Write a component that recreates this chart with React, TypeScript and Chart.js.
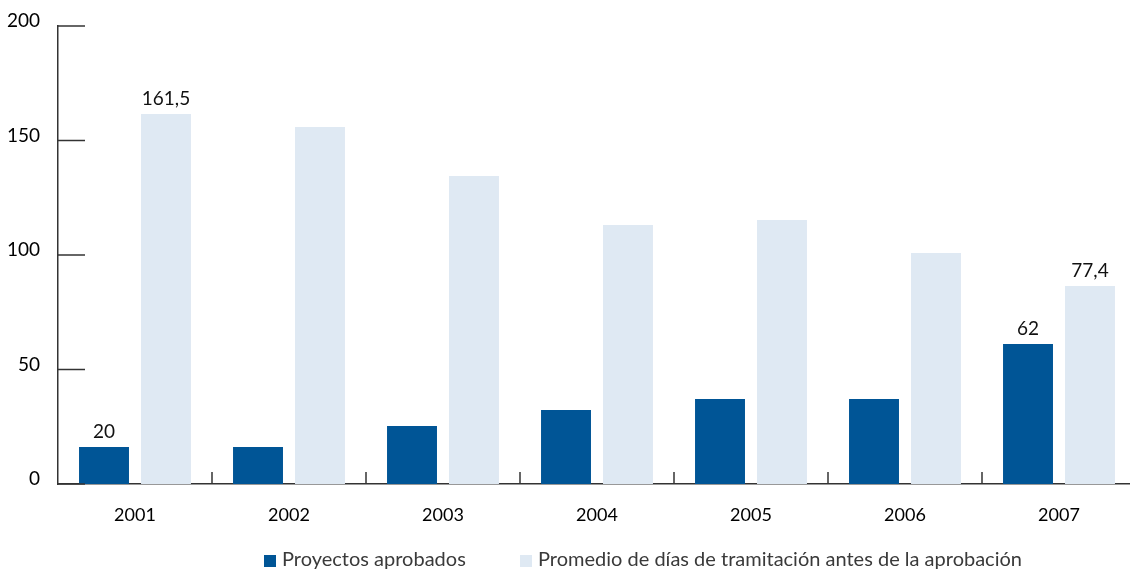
import React, { useEffect, useRef } from "react";
import { Chart, registerables } from "chart.js";

Chart.register(...registerables);

const categories = ["2001", "2002", "2003", "2004", "2005", "2006", "2007"];
const proyectosAprobados = [16.2, 16.2, 25.3, 32.3, 37.1, 37.1, 61.1];
const promedioDias = [161.6, 155.9, 134.5, 113.1, 115.3, 100.9, 86.5];
const proyectosLabels = ["20", "", "", "", "", "", "62"];
const promedioLabels = ["161,5", "", "", "", "", "", "77,4"];
const seriesNames = [
  "Proyectos aprobados",
  "Promedio de días de tramitación antes de la aprobación",
];
const yMin = 0;
const yMax = 200;
const yStep = 50;

const DARK = "#005596";
const LIGHT = "#dfe9f3";
const AXIS = "#333333";
const FONT = "Lato, 'DejaVu Sans', sans-serif";

const axisMarks = {
  id: "axisMarks",
  afterDatasetsDraw(chart: any) {
    const { ctx, chartArea, scales } = chart;
    const x = scales.x;
    const y = scales.y;
    ctx.save();
    ctx.strokeStyle = AXIS;
    ctx.lineWidth = 1.5;
    y.ticks.forEach((t: any) => {
      const py = y.getPixelForValue(t.value);
      ctx.beginPath();
      ctx.moveTo(chartArea.left, py);
      ctx.lineTo(chartArea.left + 27, py);
      ctx.stroke();
    });
    for (let i = 1; i < categories.length; i++) {
      const px = (x.getPixelForValue(i - 1) + x.getPixelForValue(i)) / 2;
      ctx.beginPath();
      ctx.moveTo(px, chartArea.bottom);
      ctx.lineTo(px, chartArea.bottom - 12);
      ctx.stroke();
    }
    ctx.restore();
  },
};

const valueLabels = {
  id: "valueLabels",
  afterDatasetsDraw(chart: any) {
    const { ctx } = chart;
    const sets = [proyectosLabels, promedioLabels];
    ctx.save();
    ctx.fillStyle = "#111111";
    ctx.font = `19px ${FONT}`;
    ctx.textAlign = "center";
    ctx.textBaseline = "alphabetic";
    sets.forEach((labels, di) => {
      const meta = chart.getDatasetMeta(di);
      labels.forEach((txt, i) => {
        if (!txt) return;
        const el = meta.data[i];
        ctx.fillText(txt, el.x, el.y - 9);
      });
    });
    ctx.restore();
  },
};

const customLegend = {
  id: "customLegend",
  afterDraw(chart: any) {
    const { ctx } = chart;
    const items = [
      { x: 264, color: DARK, text: seriesNames[0] },
      { x: 520, color: LIGHT, text: seriesNames[1] },
    ];
    ctx.save();
    ctx.font = `20px ${FONT}`;
    ctx.textBaseline = "alphabetic";
    ctx.textAlign = "left";
    items.forEach((it) => {
      ctx.fillStyle = it.color;
      ctx.fillRect(it.x, 555, 12, 12);
      ctx.fillStyle = "#3a3a3a";
      ctx.fillText(it.text, it.x + 18, 566);
    });
    ctx.restore();
  },
};

export default function App() {
  const ref = useRef<HTMLCanvasElement | null>(null);

  useEffect(() => {
    if (!ref.current) return;
    const chart = new Chart(ref.current, {
      type: "bar",
      data: {
        labels: categories,
        datasets: [
          {
            label: seriesNames[0],
            data: proyectosAprobados,
            backgroundColor: DARK,
            borderWidth: 0,
            categoryPercentage: 0.805,
            barPercentage: 0.806,
          },
          {
            label: seriesNames[1],
            data: promedioDias,
            backgroundColor: LIGHT,
            borderWidth: 0,
            categoryPercentage: 0.805,
            barPercentage: 0.806,
          },
        ],
      },
      options: {
        responsive: false,
        animation: false,
        devicePixelRatio: 1,
        layout: { padding: { top: 26, right: 4, left: 0, bottom: 0 } },
        plugins: {
          legend: { display: false },
          tooltip: { enabled: false },
          title: { display: false },
        },
        scales: {
          x: {
            grid: { display: false },
            border: { display: true, color: AXIS, width: 1.5 },
            ticks: {
              color: "#000000",
              font: { family: FONT, size: 18 },
              padding: 12,
              maxRotation: 0,
            },
            afterFit(scale: any) {
              scale.height = 85;
            },
          },
          y: {
            min: yMin,
            max: yMax,
            grid: { display: false },
            border: { display: true, color: AXIS, width: 1.5 },
            ticks: {
              stepSize: yStep,
              color: "#000000",
              font: { family: FONT, size: 19 },
              padding: 10,
              labelOffset: -5,
            },
            afterFit(scale: any) {
              scale.width = 58;
            },
          },
        },
      },
      plugins: [axisMarks, valueLabels, customLegend],
    });
    return () => chart.destroy();
  }, []);

  return (
    <div
      style={{
        position: "fixed",
        left: 0,
        top: 0,
        width: 1130,
        height: 569,
        overflow: "hidden",
        background: "#ffffff",
      }}
    >
      <canvas
        ref={ref}
        width={1140}
        height={569}
        style={{ display: "block", width: 1140, height: 569 }}
      />
    </div>
  );
}
